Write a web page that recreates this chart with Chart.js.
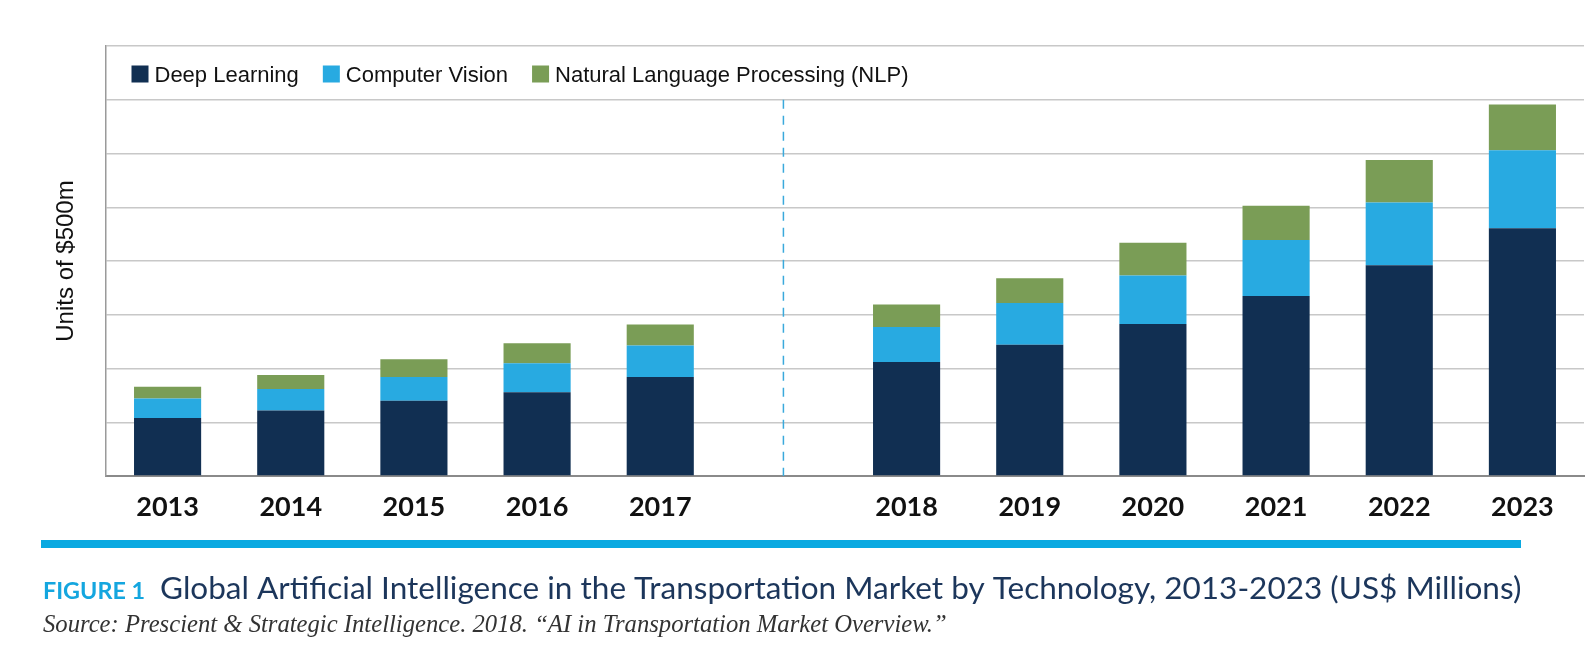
<!DOCTYPE html>
<html>
<head>
<meta charset="utf-8">
<script src="https://cdn.jsdelivr.net/npm/chart.js@4.4.1/dist/chart.umd.min.js"></script>
<style>
html, body { margin: 0; padding: 0; background: #fff; }
#wrap { width: 1594px; height: 660px; }
</style>
</head>
<body>
<div id="wrap"><canvas id="aiChart" width="1594" height="660"></canvas></div>
<script>
// US$ millions (one grid step = $500m)
// the empty category is the gap before the forecast years
var years = ['2013', '2014', '2015', '2016', '2017', '', '2018', '2019', '2020', '2021', '2022', '2023'];
var deepLearning = [540, 610, 700, 780, 920, null, 1060, 1220, 1415, 1675, 1960, 2305];
var computerVision = [180, 200, 220, 270, 295, null, 325, 390, 450, 520, 585, 725];
var nlp = [110, 130, 165, 185, 195, null, 210, 230, 305, 320, 395, 425];
var seriesNames = ['Deep Learning', 'Computer Vision', 'Natural Language Processing (NLP)'];
var seriesColors = ['#112f52', '#28aae1', '#7a9d56'];

var figureLabel = 'FIGURE 1';
var figureTitle = 'Global Artificial Intelligence in the Transportation Market by Technology, 2013-2023 (US$ Millions)';
var sourceNote = 'Source: Prescient & Strategic Intelligence. 2018. \u201cAI in Transportation Market Overview.\u201d';

// font size that makes text fill a given width
function fitSize(ctx, text, font, start, target) {
    ctx.font = font.replace('%s', start + 'px');
    var w = ctx.measureText(text).width;
    return start * target / w;
}

// legend sits inside the plot, in the top band
var insideLegend = {
    id: 'insideLegend',
    afterDraw: function(chart) {
        var ctx = chart.ctx;
        var x = chart.chartArea.left + 25.5;
        var y = 74;
        ctx.save();
        ctx.font = "22px 'Liberation Sans', Arial, sans-serif";
        ctx.textBaseline = 'alphabetic';
        chart.data.datasets.forEach(function(ds) {
            ctx.fillStyle = ds.backgroundColor;
            ctx.fillRect(x, y - 8.5, 17, 17);
            ctx.fillStyle = '#111';
            ctx.fillText(ds.label, x + 23, y + 8.3);
            x += 23 + ctx.measureText(ds.label).width + 24;
        });
        ctx.restore();
    }
};

// dashed line between actual and forecast years
var forecastDivider = {
    id: 'forecastDivider',
    beforeDatasetsDraw: function(chart) {
        var ctx = chart.ctx;
        var xs = chart.scales.x, ys = chart.scales.y;
        var px = xs.getPixelForValue(5);
        ctx.save();
        ctx.strokeStyle = '#3aa9dc';
        ctx.lineWidth = 1.5;
        ctx.setLineDash([9, 7]);
        ctx.beginPath();
        ctx.moveTo(px, ys.getPixelForValue(3500));
        ctx.lineTo(px, ys.getPixelForValue(0));
        ctx.stroke();
        ctx.restore();
    }
};

// caption block under the chart
var caption = {
    id: 'caption',
    afterDraw: function(chart) {
        var ctx = chart.ctx;
        ctx.save();
        ctx.fillStyle = '#0aa9e1';
        ctx.fillRect(41, 540, 1480, 8);

        ctx.textBaseline = 'middle';
        var f1 = "bold %s Lato, 'Open Sans', sans-serif";
        var s1 = fitSize(ctx, figureLabel, f1, 20, 102);
        ctx.font = f1.replace('%s', s1 + 'px');
        ctx.fillStyle = '#14a6df';
        ctx.fillText(figureLabel, 43, 591);

        var f2 = "%s Lato, 'Open Sans', sans-serif";
        var s2 = fitSize(ctx, figureTitle, f2, 25, 1362);
        ctx.font = f2.replace('%s', s2 + 'px');
        ctx.fillStyle = '#1c365b';
        ctx.fillText(figureTitle, 160, 589);

        var f3 = "italic %s 'Liberation Serif', 'DejaVu Serif', serif";
        var s3 = fitSize(ctx, sourceNote, f3, 20, 904);
        ctx.font = f3.replace('%s', s3 + 'px');
        ctx.fillStyle = '#333';
        ctx.fillText(sourceNote, 43, 626);
        ctx.restore();
    }
};

var ctx = document.getElementById('aiChart');
var aiChart = new Chart(ctx.getContext('2d'), {
    type: 'bar',
    data: {
        labels: years,
        datasets: [{
            label: seriesNames[0],
            data: deepLearning,
            backgroundColor: seriesColors[0]
        }, {
            label: seriesNames[1],
            data: computerVision,
            backgroundColor: seriesColors[1]
        }, {
            label: seriesNames[2],
            data: nlp,
            backgroundColor: seriesColors[2]
        }]
    },
    options: {
        responsive: false,
        animation: false,
        datasets: {
            bar: {
                barPercentage: 0.545,
                categoryPercentage: 1.0,
                borderWidth: 0
            }
        },
        layout: {
            padding: { left: 52, top: 46, right: 10, bottom: 134 }
        },
        scales: {
            x: {
                stacked: true,
                grid: { display: false, drawTicks: false },
                border: { color: '#8a8a8a', width: 2 },
                ticks: {
                    color: '#111',
                    padding: 15,
                    autoSkip: false,
                    maxRotation: 0,
                    font: { family: "Lato, 'Open Sans', sans-serif", weight: 'bold', size: 27 }
                },
                afterFit: function(s) { s.height = 50; }
            },
            y: {
                stacked: true,
                min: 0,
                max: 4000,
                ticks: { stepSize: 500, display: false },
                grid: { color: '#c8c8c8', lineWidth: 1.5, drawTicks: false },
                border: { color: '#9a9a9a', width: 1.5 },
                title: {
                    display: true,
                    text: 'Units of $500m',
                    color: '#111',
                    padding: 0,
                    font: { family: "'Liberation Sans', Arial, sans-serif", size: 24 }
                },
                afterFit: function(s) { s.width = 54; }
            }
        },
        plugins: {
            legend: { display: false },
            tooltip: { enabled: false }
        }
    },
    plugins: [forecastDivider, insideLegend, caption]
});
</script>
</body>
</html>
